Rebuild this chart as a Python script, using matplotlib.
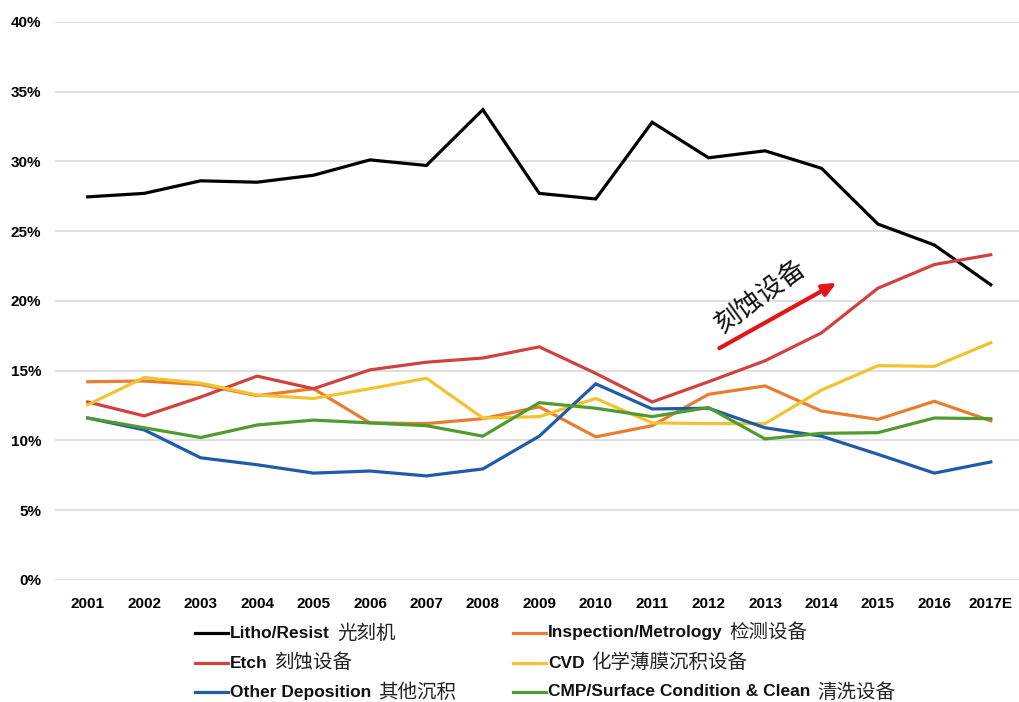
import matplotlib
matplotlib.use("Agg")
import matplotlib.pyplot as plt
from matplotlib.lines import Line2D

years = ["2001", "2002", "2003", "2004", "2005", "2006", "2007", "2008", "2009",
         "2010", "2011", "2012", "2013", "2014", "2015", "2016", "2017E"]

litho = [27.45, 27.7, 28.6, 28.5, 29.0, 30.1, 29.7, 33.7, 27.7, 27.3, 32.8, 30.25, 30.75, 29.5, 25.5, 24.0, 21.15]
inspection = [14.2, 14.25, 14.0, 13.2, 13.7, 11.25, 11.2, 11.55, 12.4, 10.25, 11.05, 13.3, 13.9, 12.1, 11.5, 12.8, 11.4]
etch = [12.75, 11.75, 13.1, 14.6, 13.7, 15.05, 15.6, 15.9, 16.7, 14.8, 12.75, 14.2, 15.7, 17.7, 20.9, 22.6, 23.3]
cvd = [12.55, 14.5, 14.1, 13.25, 13.0, 13.7, 14.45, 11.6, 11.7, 13.0, 11.25, 11.2, 11.2, 13.6, 15.35, 15.3, 17.0]
other_dep = [11.6, 10.75, 8.75, 8.25, 7.65, 7.8, 7.45, 7.95, 10.3, 14.05, 12.25, 12.3, 10.9, 10.3, 9.0, 7.65, 8.45]
cmp_clean = [11.6, 10.9, 10.2, 11.1, 11.45, 11.25, 11.05, 10.3, 12.7, 12.3, 11.7, 12.35, 10.1, 10.5, 10.55, 11.6, 11.55]

yticks = [0, 5, 10, 15, 20, 25, 30, 35, 40]
ytick_labels = ["0%", "5%", "10%", "15%", "20%", "25%", "30%", "35%", "40%"]

series_en = ["Litho/Resist", "Inspection/Metrology", "Etch", "CVD", "Other Deposition",
             "CMP/Surface Condition & Clean"]
series_cn = ["光刻机", "检测设备", "刻蚀设备", "化学薄膜沉积设备", "其他沉积", "清洗设备"]
series_data = [litho, inspection, etch, cvd, other_dep, cmp_clean]
colors = ["#000000", "#E87D2F", "#D0423F", "#F2C230", "#1F5BA8", "#4E9B2F"]
annot_text = "刻蚀设备"

en_font = ["Liberation Sans", "DejaVu Sans"]
cn_font = ["Noto Sans CJK SC", "DejaVu Sans"]

fig = plt.figure(figsize=(10.19, 7.02), dpi=100)
ax = fig.add_axes([0.054, 0.174, 0.946, 0.795])

x = list(range(len(years)))
for data, c in zip(series_data, colors):
    ax.plot(x, data, color=c, lw=2.3, solid_joinstyle="miter", zorder=3)

ax.set_xlim(-0.58, 16.5)
ax.set_ylim(0, 40)
ax.set_yticks(yticks)
ax.set_yticklabels(ytick_labels, fontfamily=en_font, fontweight="bold", fontsize=11)
ax.set_xticks(x)
ax.set_xticklabels(years, fontfamily=en_font, fontweight="bold", fontsize=11)
ax.tick_params(axis="both", length=0)
ax.tick_params(axis="y", pad=10)
ax.tick_params(axis="x", pad=12)
ax.grid(axis="y", color="#d9d9d9", lw=1.2, zorder=0)
for s in ax.spines.values():
    s.set_visible(False)

# annotation arrow and text
ax.annotate("", xy=(13.27, 21.3), xytext=(11.19, 16.6),
            arrowprops=dict(arrowstyle="-|>,head_length=0.8,head_width=0.35",
                            color="#E0161B", lw=3, shrinkA=0, shrinkB=0), zorder=4)
ax.text(11.92, 20.3, annot_text, rotation=36, fontsize=19, fontfamily=cn_font,
        ha="center", va="center", color="#111111", zorder=4)

# manual legend
col_x = [195 / 1019, 513 / 1019]
row_y = [1 - 633 / 702, 1 - 663 / 702, 1 - 692 / 702]
line_len = 33 / 1019
for i, (en, cn, c) in enumerate(zip(series_en, series_cn, colors)):
    cx = col_x[i % 2]
    ry = row_y[i // 2]
    fig.add_artist(Line2D([cx, cx + line_len], [ry, ry], color=c, lw=2.3,
                          transform=fig.transFigure))
    t = fig.text(cx + line_len + 0.002, ry, en, fontfamily=en_font, fontweight="bold",
                 fontsize=12.5, ha="left", va="center", color="#111111")
    ax.annotate(cn, xy=(1, 0.5), xycoords=t, xytext=(5, 0), textcoords="offset points",
                fontfamily=cn_font, fontsize=14, ha="left", va="center",
                color="#222222", annotation_clip=False)

fig.savefig("out.png", dpi=100)
